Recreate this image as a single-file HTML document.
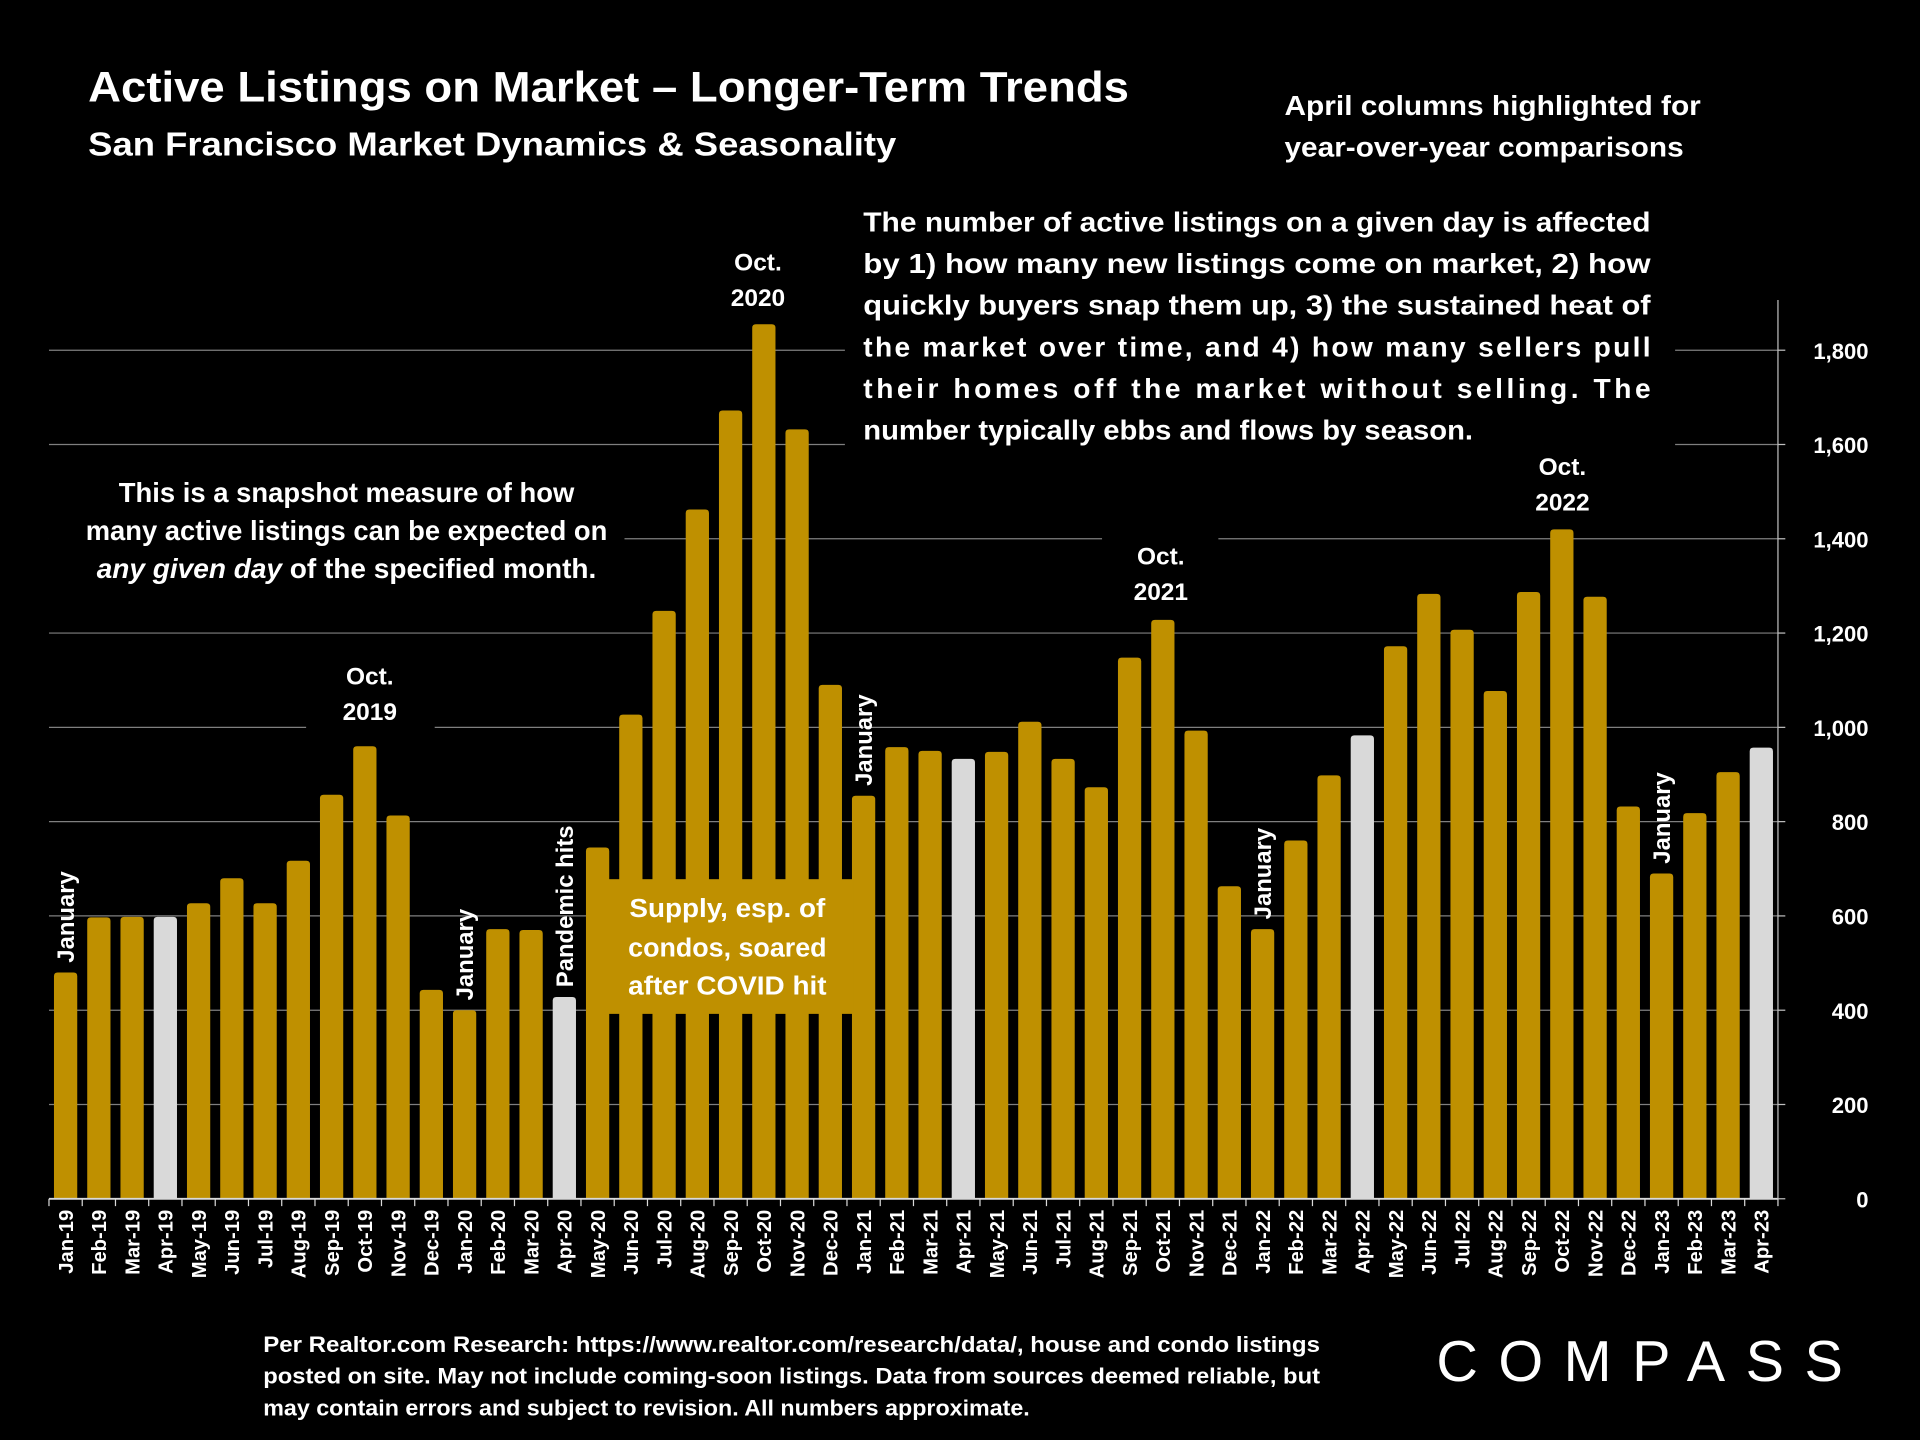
<!DOCTYPE html>
<html><head><meta charset="utf-8"><style>
html,body{margin:0;padding:0;background:#000;}
svg{display:block;}
text{font-family:"Liberation Sans",sans-serif;font-weight:bold;fill:#fff;}
</style></head><body>
<svg id="chart" width="1920" height="1440" viewBox="0 0 1568 1176" xmlns="http://www.w3.org/2000/svg">
<rect width="1568" height="1176" fill="#000"/>
<g id="grid"></g>
<g id="bars"></g>
<g id="axes"></g>

<text x="72" y="83" font-size="35" lengthAdjust="spacingAndGlyphs" textLength="850">Active Listings on Market – Longer-Term Trends</text>
<text x="72" y="127" font-size="27" lengthAdjust="spacingAndGlyphs" textLength="660">San Francisco Market Dynamics &amp; Seasonality</text>
<text x="1049" y="94" font-size="22.5" lengthAdjust="spacingAndGlyphs" textLength="340">April columns highlighted for</text>
<text x="1049" y="128" font-size="22.5" lengthAdjust="spacingAndGlyphs" textLength="326">year-over-year comparisons</text>

<rect x="690" y="160" width="678" height="210" fill="#000"/>
<g font-size="23">
<text x="705" y="189" textLength="643" lengthAdjust="spacingAndGlyphs">The number of active listings on a given day is affected</text>
<text x="705" y="223" textLength="643" lengthAdjust="spacingAndGlyphs">by 1) how many new listings come on market, 2) how</text>
<text x="705" y="257" textLength="643" lengthAdjust="spacingAndGlyphs">quickly buyers snap them up, 3) the sustained heat of</text>
<text x="705" y="291" textLength="643" lengthAdjust="spacing">the market over time, and 4) how many sellers pull</text>
<text x="705" y="325" textLength="643" lengthAdjust="spacing">their homes off the market without selling. The</text>
<text x="705" y="359" textLength="498" lengthAdjust="spacingAndGlyphs">number typically ebbs and flows by season.</text>
</g>

<rect x="40" y="385" width="470" height="100" fill="#000"/>
<g font-size="22.5" text-anchor="middle">
<text x="283" y="410" textLength="372" lengthAdjust="spacingAndGlyphs">This is a snapshot measure of how</text>
<text x="283" y="441" textLength="426" lengthAdjust="spacingAndGlyphs">many active listings can be expected on</text>
<text x="283" y="472" textLength="408" lengthAdjust="spacingAndGlyphs"><tspan font-style="italic">any given day</tspan> of the specified month.</text>
</g>

<rect x="250" y="535" width="105" height="62" fill="#000"/>
<text x="302" y="559" font-size="20" text-anchor="middle">Oct.</text>
<text x="302" y="588" font-size="20" text-anchor="middle">2019</text>
<rect x="585" y="198" width="70" height="60" fill="#000"/>
<text x="619" y="221" font-size="20" text-anchor="middle">Oct.</text>
<text x="619" y="250" font-size="20" text-anchor="middle">2020</text>
<rect x="900" y="437" width="95" height="60" fill="#000"/>
<text x="948" y="461" font-size="20" text-anchor="middle">Oct.</text>
<text x="948" y="490" font-size="20" text-anchor="middle">2021</text>
<rect x="1228" y="365" width="95" height="60" fill="#000"/>
<text x="1276" y="388" font-size="20" text-anchor="middle">Oct.</text>
<text x="1276" y="417" font-size="20" text-anchor="middle">2022</text>

<g id="vlabels"></g>

<rect x="495" y="718" width="202" height="110" fill="#BF9000"/>
<g font-size="21" text-anchor="middle">
<text x="594" y="749" textLength="160" lengthAdjust="spacingAndGlyphs">Supply, esp. of</text>
<text x="594" y="781" textLength="162" lengthAdjust="spacingAndGlyphs">condos, soared</text>
<text x="594" y="812" textLength="162" lengthAdjust="spacingAndGlyphs">after COVID hit</text>
</g>

<g font-size="18">
<text x="215" y="1104" textLength="863" lengthAdjust="spacingAndGlyphs">Per Realtor.com Research:  https://www.realtor.com/research/data/, house and condo listings</text>
<text x="215" y="1130" textLength="863" lengthAdjust="spacingAndGlyphs">posted on site. May not include coming-soon listings. Data from sources deemed reliable, but</text>
<text x="215" y="1156" textLength="626" lengthAdjust="spacingAndGlyphs">may contain errors and subject to revision. All numbers approximate.</text>
</g>
<text x="1173" y="1128" font-size="47" textLength="332" lengthAdjust="spacing" style="font-weight:normal">COMPASS</text>
</svg>
<script>
const months = ["Jan-19","Feb-19","Mar-19","Apr-19","May-19","Jun-19","Jul-19","Aug-19","Sep-19","Oct-19","Nov-19","Dec-19","Jan-20","Feb-20","Mar-20","Apr-20","May-20","Jun-20","Jul-20","Aug-20","Sep-20","Oct-20","Nov-20","Dec-20","Jan-21","Feb-21","Mar-21","Apr-21","May-21","Jun-21","Jul-21","Aug-21","Sep-21","Oct-21","Nov-21","Dec-21","Jan-22","Feb-22","Mar-22","Apr-22","May-22","Jun-22","Jul-22","Aug-22","Sep-22","Oct-22","Nov-22","Dec-22","Jan-23","Feb-23","Mar-23","Apr-23"];
const listings = [480,597,598,598,627,680,627,717,857,960,813,443,400,572,570,428,745,1027,1247,1462,1672,1855,1632,1090,855,958,950,933,948,1012,933,873,1148,1228,993,663,572,760,898,983,1172,1283,1207,1077,1287,1420,1277,832,690,818,905,957];
const yTicks = [0,200,400,600,800,1000,1200,1400,1600,1800];
const yTickLabels = ["0","200","400","600","800","1,000","1,200","1,400","1,600","1,800"];
const vAnnotations = [["January",0],["January",12],["Pandemic hits",15],["January",24],["January",36],["January",48]];

const NS="http://www.w3.org/2000/svg";
const x0=40, x1=1452, yBase=979, yTop=286, yMaxVal=1800;
const step=(x1-x0)/months.length;
const xs=i=>x0+step*(i+0.5);
const ys=v=>yBase-(v/yMaxVal)*(yBase-yTop);
function mk(tag,attrs,parent){const e=document.createElementNS(NS,tag);for(const k in attrs)e.setAttribute(k,attrs[k]);parent.appendChild(e);return e;}
const grid=document.getElementById('grid'),bars=document.getElementById('bars'),axes=document.getElementById('axes'),vl=document.getElementById('vlabels');
yTicks.forEach((t,i)=>{
  if(t===0)return;
  const l=mk('line',{x1:x0,x2:x1,y1:ys(t),y2:ys(t),stroke:'#7f7f7f','stroke-width':1},grid);
  
  
});
yTicks.forEach((t,i)=>{
  const tk=mk('line',{x1:x1,x2:x1+6,y1:ys(t),y2:ys(t),stroke:'#bfbfbf','stroke-width':1},axes);
  
  
  const tx=mk('text',{x:1526,y:ys(t)+7,'font-size':18,'text-anchor':'end'},axes);
  tx.textContent=yTickLabels[i];
  
  
});
const bw=19;
listings.forEach((v,i)=>{
  const apr=months[i].startsWith('Apr');
  const p=mk('path',{d:`M${xs(i)-bw/2},${yBase}V${ys(v)+3}q0,-3 3,-3h${bw-6}q3,0 3,3V${yBase}Z`,fill:apr?'#d9d9d9':'#BF9000'},bars);
  
  
  const lb=mk('text',{x:0,y:0,'font-size':16.5,'text-anchor':'end',transform:`translate(${xs(i)+6},${yBase+9}) rotate(-90)`},axes);
  lb.textContent=months[i];
  
  
});
const ax=mk('line',{x1:x0,x2:x1,y1:yBase,y2:yBase,stroke:'#d9d9d9','stroke-width':1.5},axes);


const ay=mk('line',{x1:x1,x2:x1,y1:245,y2:yBase,stroke:'#bfbfbf','stroke-width':1},axes);


for(let i=0;i<=months.length;i++){
  const t=mk('line',{x1:x0+step*i,x2:x0+step*i,y1:yBase,y2:yBase+6,stroke:'#d9d9d9','stroke-width':1},axes);
  
  
}
vAnnotations.forEach(a=>{
  const i=a[1];
  const t=mk('text',{x:0,y:0,'font-size':19.5,'text-anchor':'start',transform:`translate(${xs(i)+7},${ys(listings[i])-8}) rotate(-90)`},vl);
  t.textContent=a[0];
  
  
});
</script>
</body></html>
